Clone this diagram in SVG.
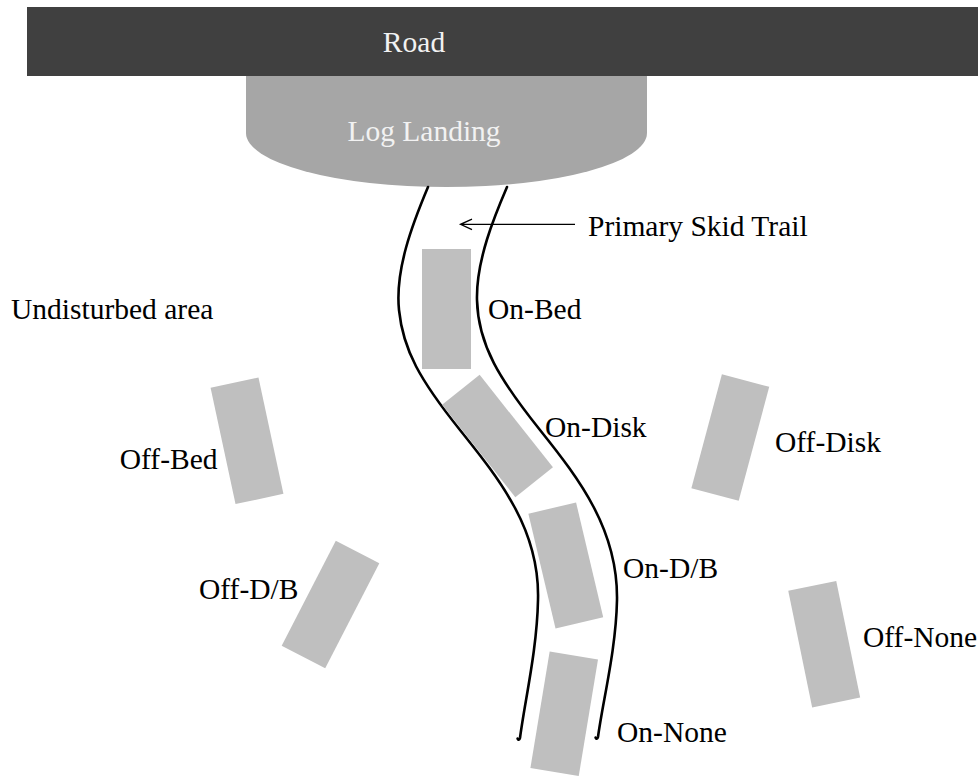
<svg xmlns="http://www.w3.org/2000/svg" width="978" height="776" viewBox="0 0 978 776">
<defs>
<style>
text{font-family:"Liberation Serif","Times New Roman",serif;font-size:29.5px;fill:#000}
.light{fill:#f2f2f2}
.plot{fill:#bfbfbf}
.trail{fill:none;stroke:#000;stroke-width:2.6;stroke-linecap:round}
.arrow{fill:none;stroke:#000;stroke-width:1.3}
</style>
</defs>
<rect width="978" height="776" fill="#fff"/>
<g id="road">
<rect x="27" y="7" width="951" height="69" fill="#404040"/>
<text class="light" x="414" y="52" text-anchor="middle">Road</text>
</g>
<g id="log-landing">
<path d="M246,76 H647 V133 A200.5,54 0 0 1 246,133 Z" fill="#a6a6a6"/>
<text class="light" x="424" y="141" text-anchor="middle">Log Landing</text>
</g>
<g id="skid-trail">
<path class="trail" d="M428,187 C412,225 395,270 399,310 C403,350 420,380 460,430 C500,480 540,530 538,600 C537,650 525,700 520,738 c-0.4,2 -2,2.2 -2.4,0.6"/>
<path class="trail" d="M507,187 C495,215 476,260 477,300 C478,345 500,380 540,430 C580,480 618,530 617,600 C616,650 603,700 598,737 c-0.4,2 -2,2.2 -2.4,0.6"/>
</g>
<g id="connectors">
<path class="arrow" d="M575,224.3 H460.5 M472,219.2 L460.5,224.3 L472,229.6"/>
</g>
<g id="primary-skid-trail-label"><text x="588" y="235.5">Primary Skid Trail</text></g>
<g id="undisturbed-area"><text x="11" y="319">Undisturbed area</text></g>
<g id="on-bed">
<rect class="plot" x="422" y="249" width="49" height="120"/>
<text x="488" y="319">On-Bed</text>
</g>
<g id="on-disk">
<rect class="plot" x="-24" y="-59" width="48" height="118" transform="translate(497.5,436) rotate(-38.4)"/>
<text x="545" y="437">On-Disk</text>
</g>
<g id="on-db">
<rect class="plot" x="-24.5" y="-59" width="49" height="118" transform="translate(565.8,565.5) rotate(-13.3)"/>
<text x="623" y="578">On-D/B</text>
</g>
<g id="on-none">
<rect class="plot" x="-24.5" y="-59" width="49" height="118" transform="translate(564.2,713.8) rotate(9.4)"/>
<text x="617" y="741.5">On-None</text>
</g>
<g id="off-bed">
<rect class="plot" x="-24.5" y="-59.5" width="49" height="119" transform="translate(247,440.8) rotate(-12.1)"/>
<text x="217.5" y="469" text-anchor="end">Off-Bed</text>
</g>
<g id="off-db">
<rect class="plot" x="-24.5" y="-59" width="49" height="118" transform="translate(330.5,604.5) rotate(27.3)"/>
<text x="199" y="599">Off-D/B</text>
</g>
<g id="off-disk">
<rect class="plot" x="-24.5" y="-59" width="49" height="118" transform="translate(730.3,437.5) rotate(15)"/>
<text x="775" y="451.5">Off-Disk</text>
</g>
<g id="off-none">
<rect class="plot" x="-24.5" y="-59.5" width="49" height="119" transform="translate(824.2,644.2) rotate(-11.6)"/>
<text x="863" y="647">Off-None</text>
</g>
</svg>
